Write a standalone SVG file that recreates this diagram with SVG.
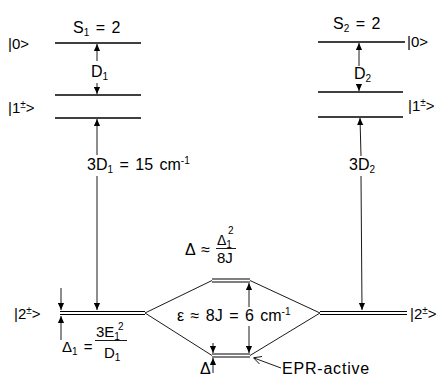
<svg xmlns="http://www.w3.org/2000/svg" width="445" height="377" viewBox="0 0 445 377">
<defs>
<marker id="ah" viewBox="0 0 8 8" refX="8" refY="4" markerWidth="7" markerHeight="7" orient="auto-start-reverse" markerUnits="userSpaceOnUse">
<path d="M0,0.5 L8,4 L0,7.5 Z" fill="#000"/>
</marker>
</defs>
<style>
text{font-family:"Liberation Sans",Arial,sans-serif;font-size:16px;fill:#000;word-spacing:2px}
.k{font-size:15px}
.m{font-size:14px}
.s{font-size:10px}
.lvl{stroke:#000;stroke-width:1.6;fill:none}
.dbl{stroke:#000;stroke-width:1.1;fill:none}
.ln{stroke:#000;stroke-width:0.9;fill:none}
.ar{stroke:#000;stroke-width:0.9;fill:none;marker-end:url(#ah)}
</style>
<rect width="445" height="377" fill="#fff"/>

<g id="left-levels">
<line class="lvl" x1="55" y1="43" x2="141" y2="43"/>
<line class="lvl" x1="55" y1="95" x2="141" y2="95"/>
<line class="lvl" x1="55" y1="118" x2="141" y2="118"/>
<text x="73" y="33">S<tspan class="s" dy="3">1</tspan><tspan dy="-3"> = 2</tspan></text>
<text class="k" x="8" y="49">|0&gt;</text>
<text class="k" x="8" y="113">|1<tspan class="s" dy="-5">±</tspan><tspan dy="5">&gt;</tspan></text>
<text x="91" y="77">D<tspan class="s" dy="3">1</tspan></text>
<text x="87" y="170">3D<tspan class="s" dy="3">1</tspan><tspan dy="-3"> = 15 cm</tspan><tspan class="s" dy="-6">-1</tspan></text>
</g>

<g id="left-ground">
<line class="dbl" x1="60" y1="311.5" x2="145" y2="311.5"/>
<line class="dbl" x1="60" y1="314.5" x2="145" y2="314.5"/>
<text class="k" x="14" y="319">|2<tspan class="s" dy="-5">±</tspan><tspan dy="5">&gt;</tspan></text>
<text class="k" x="62" y="352">Δ<tspan class="s" dy="3">1</tspan><tspan dy="-3"> =</tspan></text>
<text class="k" x="96" y="337">3E<tspan class="s" dy="3">1</tspan></text>
<text class="s" x="118" y="330">2</text>
<line class="ln" x1="95" y1="340.5" x2="127" y2="340.5"/>
<text class="k" x="104" y="358">D<tspan class="s" dy="3">1</tspan></text>
</g>

<g id="middle-upper">
<line class="dbl" x1="212" y1="279" x2="250" y2="279"/>
<line class="dbl" x1="212" y1="282" x2="250" y2="282"/>
<text x="185" y="255">Δ ≈</text>
<text class="m" x="217" y="245">Δ<tspan class="s" dy="3">1</tspan></text>
<text class="s" x="228" y="234">2</text>
<line class="ln" x1="216" y1="248.5" x2="236" y2="248.5"/>
<text class="k" x="217" y="263">8J</text>
</g>

<g id="middle-lower">
<line class="dbl" x1="212" y1="354" x2="250" y2="354"/>
<line class="dbl" x1="212" y1="357" x2="250" y2="357"/>
<text x="200" y="374">Δ</text>
<text x="282" y="374" letter-spacing="0.8">EPR-active</text>
</g>

<g id="right-levels">
<line class="lvl" x1="318" y1="42" x2="405" y2="42"/>
<line class="lvl" x1="318" y1="92" x2="403" y2="92"/>
<line class="lvl" x1="318" y1="117" x2="403" y2="117"/>
<text x="333" y="29">S<tspan class="s" dy="3">2</tspan><tspan dy="-3"> = 2</tspan></text>
<text class="k" x="407" y="47">|0&gt;</text>
<text class="k" x="408" y="111">|1<tspan class="s" dy="-5">±</tspan><tspan dy="5">&gt;</tspan></text>
<text x="354" y="79">D<tspan class="s" dy="3">2</tspan></text>
<text x="349" y="170">3D<tspan class="s" dy="3">2</tspan></text>
</g>

<g id="right-ground">
<line class="dbl" x1="320" y1="311.5" x2="407" y2="311.5"/>
<line class="dbl" x1="320" y1="314.5" x2="407" y2="314.5"/>
<text class="k" x="410" y="319">|2<tspan class="s" dy="-5">±</tspan><tspan dy="5">&gt;</tspan></text>
</g>

<g id="connectors">
<line class="ln" x1="145" y1="313" x2="212" y2="280.5"/>
<line class="ln" x1="145" y1="313" x2="212" y2="355.5"/>
<line class="ln" x1="250" y1="280.5" x2="320" y2="313"/>
<line class="ln" x1="250" y1="355.5" x2="320" y2="313"/>
<line class="ar" x1="97" y1="61" x2="97" y2="44"/>
<line class="ar" x1="97" y1="83" x2="97" y2="94"/>
<line class="ar" x1="97" y1="155" x2="97" y2="119"/>
<line class="ar" x1="97" y1="176" x2="97" y2="310"/>
<line class="ar" x1="359" y1="66" x2="359" y2="43"/>
<line class="ar" x1="359" y1="86" x2="359" y2="91"/>
<line class="ar" x1="361" y1="156" x2="360" y2="118"/>
<line class="ar" x1="361" y1="176" x2="362" y2="310"/>
<line class="ar" x1="61" y1="288" x2="61" y2="310"/>
<line class="ar" x1="61" y1="340" x2="61" y2="316"/>
<line class="ar" x1="249" y1="307" x2="249" y2="283"/>
<line class="ar" x1="249" y1="326" x2="249" y2="353"/>
<line class="ar" x1="213" y1="343" x2="213" y2="353"/>
<line class="ar" x1="213" y1="373" x2="213" y2="358"/>
<line class="ln" x1="281" y1="368" x2="254" y2="358"/>
<polyline class="ln" points="262,356.5 253.5,357.8 259.5,364"/>
</g>
<text x="177" y="321" word-spacing="3">ε ≈ 8J = 6 cm<tspan class="s" dy="-6">-1</tspan></text>
</svg>
